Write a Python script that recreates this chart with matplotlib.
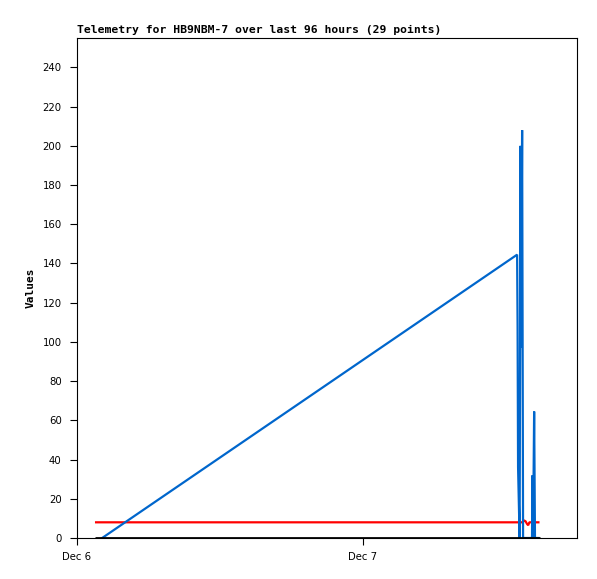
import datetime as dt
import matplotlib
matplotlib.use("Agg")
import matplotlib.pyplot as plt
import matplotlib.dates as mdates

# hours after Dec 6 00:00
base = dt.datetime(2023, 12, 6)

blue_hours = [1.51, 36.97, 37.01, 37.05, 37.18, 37.26, 37.30, 37.39, 37.43, 37.47,
              38.22, 38.27, 38.31, 38.40, 38.47, 38.85]
blue_vals = [-2.5, 144.5, 108, 36, 0, 200, 97, 208, 104, 0,
             0, 32, 0, 64.5, 0, 0]

red_hours = [1.51, 37.45, 37.55, 37.68, 37.80, 37.90, 38.00, 38.85]
red_vals = [8, 8, 9, 8.5, 7.2, 6.5, 8, 8]

black_hours = [1.51, 38.85]
black_vals = [0, 0]

title = "Telemetry for HB9NBM-7 over last 96 hours (29 points)"


def to_dates(hours):
    return [base + dt.timedelta(hours=h) for h in hours]


fig = plt.figure(figsize=(5.97, 5.79), dpi=100)
ax = fig.add_axes([77 / 597, 1 - 538 / 579, 500 / 597, 500 / 579])

style = dict(solid_joinstyle="bevel", solid_capstyle="butt")
ax.plot(to_dates(red_hours), red_vals, color="#ff0000", lw=1.6, zorder=2, **style)
ax.plot(to_dates(blue_hours), blue_vals, color="#0066cc", lw=1.6, zorder=3, **style)
ax.plot(to_dates(black_hours), black_vals, color="#000000", lw=2.0, zorder=4, **style)

ax.set_xlim(base, base + dt.timedelta(hours=42))
ax.set_ylim(0, 255)
ax.set_yticks(range(0, 241, 20))
ax.xaxis.set_major_locator(mdates.DayLocator())
ax.xaxis.set_major_formatter(mdates.DateFormatter("%b %-d"))

ax.tick_params(direction="out", length=5, width=0.8, labelsize=7.3)
ax.tick_params(axis="y", pad=6)
ax.tick_params(axis="x", pad=5)
for s in ax.spines.values():
    s.set_linewidth(0.8)

ax.set_ylabel("Values", family="DejaVu Sans Mono", fontweight="bold", fontsize=8)
ax.yaxis.set_label_coords(-0.083, 0.5)
fig.text(77 / 597, 1 - 33 / 579, title, family="DejaVu Sans Mono", fontweight="bold",
         fontsize=8.2, ha="left", va="baseline")

fig.savefig("out.png", dpi=100)
